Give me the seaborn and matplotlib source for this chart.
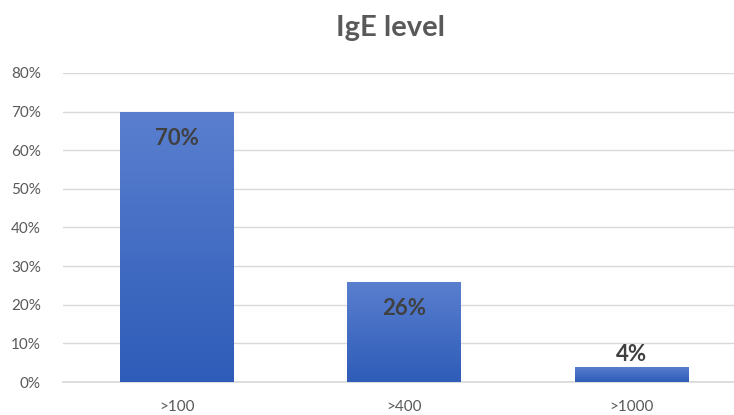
import numpy as np
import pandas as pd
import matplotlib
matplotlib.use("Agg")
import matplotlib.pyplot as plt
import seaborn as sns
from matplotlib.colors import LinearSegmentedColormap

categories = [">100", ">400", ">1000"]
values = [70, 26, 4]
yticks = [0, 10, 20, 30, 40, 50, 60, 70, 80]

sns.set_theme(style="white")
plt.rcParams['font.family'] = ['Lato', 'DejaVu Sans']

fig = plt.figure(figsize=(7.34, 4.15), dpi=100)
ax = fig.add_axes([63/734, 1-382/415, (745-63)/734, (382-73)/415])

df = pd.DataFrame({"cat": categories, "val": values})
sns.barplot(data=df, x="cat", y="val", ax=ax, color="#3f6cc8", width=0.5,
            saturation=1, edgecolor="none", zorder=3)

cmap = LinearSegmentedColormap.from_list("g", ["#2e5cb8", "#5a7fcf"])
grad = np.linspace(0, 1, 256).reshape(-1, 1)
for p in ax.patches:
    x0, y0 = p.get_x(), p.get_y()
    w, h = p.get_width(), p.get_height()
    im = ax.imshow(grad, extent=[x0, x0 + w, y0, y0 + h], origin="lower",
                   cmap=cmap, aspect="auto", zorder=4)
    im.set_clip_path(p)

ax.set_xlim(-0.5, 2.5)
ax.set_ylim(0, 80)
ax.set_yticks(yticks)
ax.set_yticklabels([f"{t}%" for t in yticks])
ax.grid(axis="y", color="#d9d9d9", linewidth=1, zorder=0)
ax.set_axisbelow(True)
for s in ["top", "right", "left"]:
    ax.spines[s].set_visible(False)
ax.spines["bottom"].set_color("#d9d9d9")
ax.spines["bottom"].set_zorder(2)
ax.tick_params(axis="both", length=0, labelsize=11, colors="#595959")
ax.tick_params(axis="y", pad=16)
ax.tick_params(axis="x", pad=13)
ax.set_xlabel("")
ax.set_ylabel("")

for i, v in enumerate(values):
    dy = -19.5 if v >= 10 else 9
    ax.annotate(f"{v}%", xy=(i, v), xytext=(0, dy), textcoords="offset points",
                ha="center", va="center", fontsize=16, fontweight="bold",
                color="#404040", zorder=6)

fig.text(391/734, 1-28/415, "IgE level", ha="center", va="center",
         fontsize=21, fontweight="bold", color="#595959")

fig.savefig("out.png", dpi=100)
